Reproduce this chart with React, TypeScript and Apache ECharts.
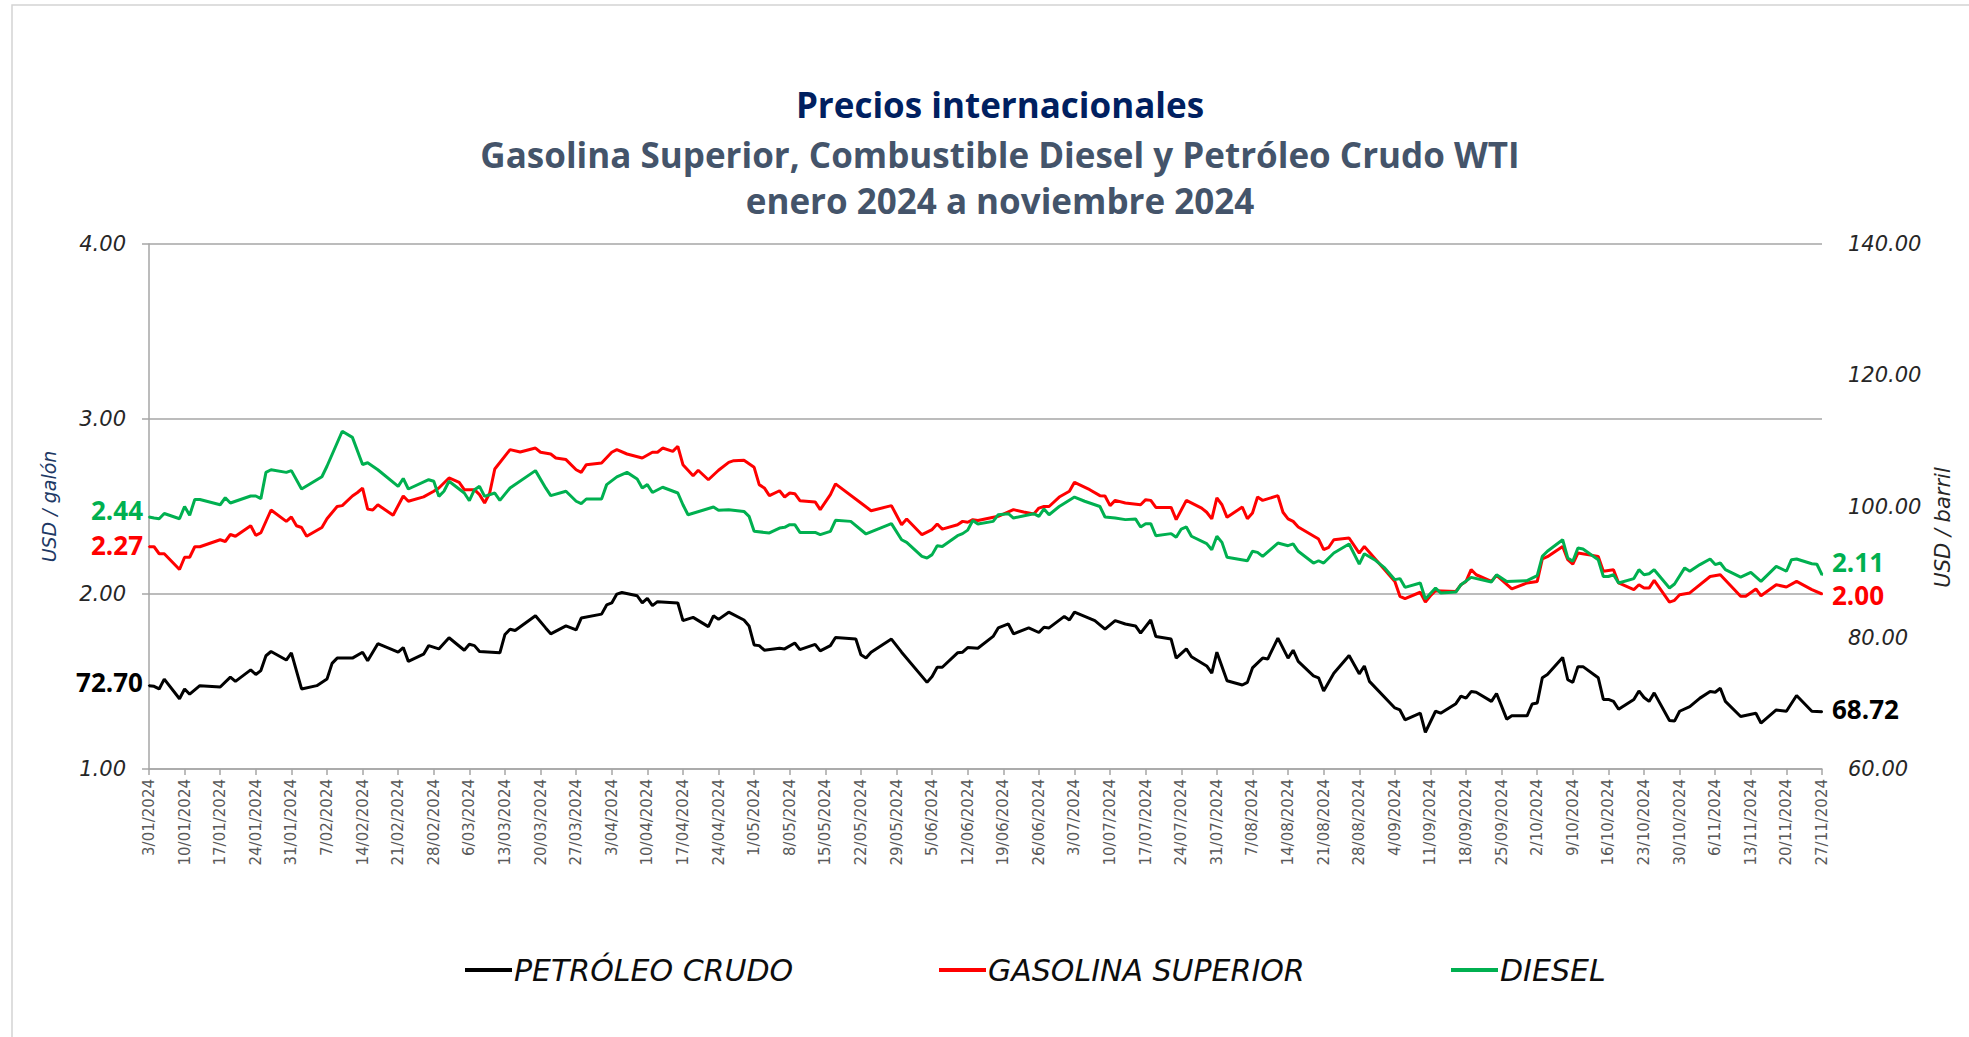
import React, { useEffect, useRef } from "react";
import * as echarts from "echarts";

// Day offsets from 3/01/2024 (day 0) to 27/11/2024 (day 329)
const weekLabels = [
  "3/01/2024", "10/01/2024", "17/01/2024", "24/01/2024", "31/01/2024", "7/02/2024", "14/02/2024", "21/02/2024",
  "28/02/2024", "6/03/2024", "13/03/2024", "20/03/2024", "27/03/2024", "3/04/2024", "10/04/2024", "17/04/2024",
  "24/04/2024", "1/05/2024", "8/05/2024", "15/05/2024", "22/05/2024", "29/05/2024", "5/06/2024", "12/06/2024",
  "19/06/2024", "26/06/2024", "3/07/2024", "10/07/2024", "17/07/2024", "24/07/2024", "31/07/2024", "7/08/2024",
  "14/08/2024", "21/08/2024", "28/08/2024", "4/09/2024", "11/09/2024", "18/09/2024", "25/09/2024", "2/10/2024",
  "9/10/2024", "16/10/2024", "23/10/2024", "30/10/2024", "6/11/2024", "13/11/2024", "20/11/2024", "27/11/2024",
];

const seriesNames = ["PETRÓLEO CRUDO", "GASOLINA SUPERIOR", "DIESEL"];
const seriesColors = ["#000000", "#FF0000", "#00B050"];

// PETRÓLEO CRUDO WTI, USD / barril : [day, value]
const crude: [number, number][] = [
  [0, 72.7], [1, 72.6], [2, 72.2], [3, 73.7], [6, 70.7], [7, 72.2], [8, 71.4], [10, 72.7], [14, 72.5], [16, 74.0],
  [17, 73.35], [20, 75.1], [21, 74.4], [22, 75.0], [23, 77.26], [24, 77.9], [27, 76.6], [28, 77.7], [30, 72.2],
  [33, 72.7], [35, 73.7], [36, 76.1], [37, 76.9], [40, 76.9], [42, 77.8], [43, 76.5], [45, 79.1], [49, 77.8],
  [50, 78.5], [51, 76.4], [54, 77.5], [55, 78.8], [57, 78.3], [59, 80.0], [62, 78.1], [63, 79.0], [64, 78.8],
  [65, 77.9], [69, 77.7], [70, 80.5], [71, 81.3], [72, 81.1], [76, 83.35], [78, 81.5], [79, 80.6], [82, 81.8],
  [84, 81.2], [85, 83.0], [89, 83.6], [90, 85.0], [91, 85.3], [92, 86.65], [93, 86.9], [96, 86.4], [97, 85.3],
  [98, 86.0], [99, 84.9], [100, 85.5], [104, 85.3], [105, 82.6], [107, 83.1], [110, 81.7], [111, 83.35],
  [112, 82.8], [114, 83.9], [117, 82.7], [118, 81.8], [119, 78.9], [120, 78.8], [121, 78.1], [124, 78.4],
  [125, 78.3], [127, 79.2], [128, 78.2], [131, 79.0], [132, 78.0], [134, 78.8], [135, 80.05], [139, 79.8],
  [140, 77.4], [141, 76.9], [142, 77.8], [146, 79.8], [148, 77.8], [153, 73.2], [154, 74.1], [155, 75.5],
  [156, 75.5], [159, 77.7], [160, 77.8], [161, 78.5], [163, 78.4], [166, 80.2], [167, 81.5], [169, 82.1],
  [170, 80.6], [173, 81.5], [175, 80.8], [176, 81.6], [177, 81.5], [180, 83.25], [181, 82.7], [182, 83.9],
  [186, 82.6], [188, 81.3], [190, 82.6], [192, 82.1], [194, 81.8], [195, 80.7], [197, 82.7], [198, 80.2],
  [201, 79.8], [202, 76.9], [204, 78.3], [205, 77.1], [208, 75.7], [209, 74.6], [210, 77.8], [212, 73.45],
  [215, 72.8], [216, 73.2], [217, 75.4], [219, 76.9], [220, 76.75], [222, 79.95], [224, 76.9], [225, 78.1],
  [226, 76.4], [229, 74.2], [230, 73.9], [231, 71.9], [233, 74.6], [236, 77.3], [238, 74.5], [239, 75.7],
  [240, 73.35], [245, 69.3], [246, 69.0], [247, 67.5], [250, 68.5], [251, 65.6], [253, 68.8], [254, 68.5],
  [257, 69.95], [258, 71.1], [259, 70.8], [260, 71.8], [261, 71.7], [264, 70.3], [265, 71.5], [267, 67.6],
  [268, 68.1], [271, 68.1], [272, 69.9], [273, 70.05], [274, 73.9], [275, 74.4], [278, 77.0], [279, 73.6],
  [280, 73.2], [281, 75.6], [282, 75.6], [285, 73.9], [286, 70.6], [287, 70.6], [288, 70.3], [289, 69.1],
  [292, 70.6], [293, 71.9], [294, 70.9], [295, 70.3], [296, 71.6], [299, 67.4], [300, 67.3], [301, 68.8],
  [303, 69.5], [305, 70.8], [307, 71.8], [308, 71.7], [309, 72.3], [310, 70.3], [313, 68.0], [316, 68.5],
  [317, 67.0], [320, 69.0], [322, 68.8], [324, 71.2], [327, 68.8], [329, 68.72],
];

// GASOLINA SUPERIOR, USD / galón : [day, value]
const gasoline: [number, number][] = [
  [0, 2.27], [1, 2.27], [2, 2.23], [3, 2.23], [6, 2.14], [7, 2.21], [8, 2.21], [9, 2.27], [10, 2.27], [14, 2.31],
  [15, 2.3], [16, 2.34], [17, 2.33], [20, 2.39], [21, 2.335], [22, 2.35], [24, 2.48], [27, 2.415], [28, 2.44],
  [29, 2.39], [30, 2.38], [31, 2.33], [34, 2.38], [35, 2.43], [37, 2.5], [38, 2.505], [40, 2.56], [41, 2.58],
  [42, 2.605], [43, 2.485], [44, 2.48], [45, 2.51], [48, 2.45], [50, 2.56], [51, 2.53], [54, 2.555], [56, 2.587],
  [57, 2.606], [59, 2.663], [61, 2.638], [62, 2.596], [64, 2.596], [65, 2.568], [66, 2.52], [67, 2.577],
  [68, 2.714], [71, 2.825], [73, 2.811], [76, 2.834], [77, 2.81], [79, 2.8], [80, 2.777], [82, 2.768], [84, 2.71],
  [85, 2.695], [86, 2.739], [89, 2.749], [91, 2.81], [92, 2.825], [94, 2.8], [97, 2.777], [99, 2.81], [100, 2.81],
  [101, 2.834], [103, 2.815], [104, 2.844], [105, 2.739], [107, 2.676], [108, 2.707], [110, 2.653], [112, 2.707],
  [114, 2.752], [115, 2.762], [117, 2.764], [119, 2.724], [120, 2.625], [121, 2.606], [122, 2.562], [124, 2.59],
  [125, 2.554], [126, 2.577], [127, 2.573], [128, 2.533], [131, 2.526], [132, 2.482], [134, 2.568], [135, 2.629],
  [140, 2.52], [142, 2.476], [146, 2.505], [148, 2.396], [149, 2.429], [152, 2.339], [154, 2.368], [155, 2.4],
  [156, 2.371], [159, 2.396], [160, 2.415], [161, 2.41], [162, 2.425], [163, 2.42], [167, 2.444], [170, 2.482],
  [172, 2.469], [174, 2.457], [175, 2.491], [176, 2.5], [177, 2.5], [179, 2.554], [181, 2.587], [182, 2.638],
  [185, 2.596], [187, 2.562], [188, 2.56], [189, 2.505], [190, 2.535], [192, 2.52], [195, 2.51], [196, 2.539],
  [197, 2.535], [198, 2.495], [201, 2.495], [202, 2.425], [204, 2.535], [207, 2.491], [208, 2.467], [209, 2.429],
  [210, 2.549], [211, 2.51], [212, 2.438], [215, 2.497], [216, 2.43], [217, 2.463], [218, 2.554], [219, 2.535],
  [222, 2.562], [223, 2.467], [224, 2.429], [225, 2.415], [226, 2.383], [230, 2.314], [231, 2.253], [232, 2.267],
  [233, 2.31], [236, 2.32], [238, 2.234], [239, 2.272], [243, 2.139], [245, 2.072], [246, 1.987], [247, 1.973],
  [250, 2.01], [251, 1.954], [252, 1.99], [253, 2.019], [257, 2.015], [258, 2.053], [259, 2.072], [260, 2.139],
  [261, 2.11], [264, 2.072], [265, 2.107], [268, 2.029], [271, 2.063], [273, 2.072], [274, 2.2], [275, 2.213],
  [278, 2.272], [279, 2.196], [280, 2.171], [281, 2.234], [285, 2.215], [286, 2.13], [288, 2.139], [289, 2.063],
  [292, 2.025], [293, 2.053], [294, 2.034], [295, 2.034], [296, 2.078], [299, 1.954], [300, 1.964], [301, 1.996],
  [303, 2.006], [307, 2.1], [309, 2.11], [313, 1.987], [314, 1.987], [316, 2.029], [317, 1.99], [320, 2.053],
  [322, 2.04], [324, 2.072], [327, 2.025], [329, 2.0],
];

// DIESEL, USD / galón : [day, value]
const diesel: [number, number][] = [
  [0, 2.44], [1, 2.434], [2, 2.43], [3, 2.46], [6, 2.43], [7, 2.5], [8, 2.45], [9, 2.54], [10, 2.54], [14, 2.51],
  [15, 2.55], [16, 2.52], [20, 2.56], [21, 2.56], [22, 2.545], [23, 2.695], [24, 2.71], [27, 2.695], [28, 2.705],
  [30, 2.6], [34, 2.67], [35, 2.73], [38, 2.93], [40, 2.895], [42, 2.74], [43, 2.75], [45, 2.71], [49, 2.615],
  [50, 2.66], [51, 2.6], [55, 2.653], [56, 2.644], [57, 2.558], [58, 2.587], [59, 2.644], [62, 2.577], [63, 2.533],
  [64, 2.596], [65, 2.615], [66, 2.558], [68, 2.577], [69, 2.535], [71, 2.606], [76, 2.705], [78, 2.606],
  [79, 2.562], [82, 2.587], [84, 2.53], [85, 2.516], [86, 2.543], [89, 2.543], [90, 2.625], [92, 2.669],
  [94, 2.695], [96, 2.657], [97, 2.606], [98, 2.625], [99, 2.58], [101, 2.61], [104, 2.577], [105, 2.51],
  [106, 2.453], [111, 2.497], [112, 2.478], [114, 2.482], [117, 2.472], [118, 2.444], [119, 2.358], [122, 2.349],
  [124, 2.377], [125, 2.381], [126, 2.396], [127, 2.396], [128, 2.352], [131, 2.352], [132, 2.339], [134, 2.358],
  [135, 2.421], [138, 2.415], [141, 2.343], [146, 2.402], [148, 2.31], [149, 2.295], [152, 2.215], [153, 2.206],
  [154, 2.225], [155, 2.276], [156, 2.272], [159, 2.333], [160, 2.345], [161, 2.365], [162, 2.42], [163, 2.4],
  [166, 2.415], [167, 2.453], [169, 2.459], [170, 2.434], [174, 2.459], [175, 2.444], [176, 2.486], [177, 2.453],
  [179, 2.5], [182, 2.554], [184, 2.53], [187, 2.5], [188, 2.44], [190, 2.434], [192, 2.425], [194, 2.429],
  [195, 2.383], [196, 2.402], [197, 2.402], [198, 2.333], [201, 2.345], [202, 2.324], [203, 2.371], [204, 2.383],
  [205, 2.33], [208, 2.288], [209, 2.253], [210, 2.33], [211, 2.295], [212, 2.21], [216, 2.19], [217, 2.244],
  [218, 2.238], [219, 2.215], [222, 2.291], [224, 2.276], [225, 2.286], [226, 2.244], [229, 2.177], [230, 2.19],
  [231, 2.177], [233, 2.234], [236, 2.286], [238, 2.171], [239, 2.23], [241, 2.196], [243, 2.149], [245, 2.082],
  [246, 2.088], [247, 2.038], [250, 2.063], [251, 1.971], [253, 2.034], [254, 2.006], [257, 2.011], [258, 2.053],
  [260, 2.095], [264, 2.069], [265, 2.11], [267, 2.072], [271, 2.076], [273, 2.105], [274, 2.215], [275, 2.244],
  [278, 2.31], [279, 2.206], [280, 2.187], [281, 2.263], [282, 2.257], [285, 2.196], [286, 2.1], [287, 2.1],
  [288, 2.11], [289, 2.063], [292, 2.088], [293, 2.139], [294, 2.11], [295, 2.116], [296, 2.139], [299, 2.034],
  [300, 2.057], [302, 2.149], [303, 2.13], [305, 2.168], [307, 2.2], [308, 2.168], [309, 2.177], [310, 2.139],
  [313, 2.097], [315, 2.124], [317, 2.072], [320, 2.158], [322, 2.13], [323, 2.196], [324, 2.2], [327, 2.173],
  [328, 2.17], [329, 2.11],
];

const titleLines = [
  "Precios internacionales",
  "Gasolina Superior, Combustible Diesel y Petróleo Crudo WTI",
  "enero 2024 a noviembre 2024",
];

const FONT = "'Open Sans', 'Noto Sans', sans-serif";
const WIDE = "'DejaVu Sans', 'Open Sans', sans-serif";

function withEndLabels(
  pts: [number, number][],
  color: string,
  startOffset: number[],
  endOffset: number[]
) {
  const base = {
    show: true,
    color,
    fontFamily: FONT,
    fontWeight: "bold",
    fontSize: 26,
    lineHeight: 26,
    formatter: (p: any) => Number(p.value[1]).toFixed(2),
  };
  return pts.map((p, i) => {
    if (i === 0) {
      return {
        value: p,
        symbolSize: 2,
        label: { ...base, position: "left", distance: 5, offset: startOffset },
      };
    }
    if (i === pts.length - 1) {
      return {
        value: p,
        symbolSize: 2,
        label: { ...base, position: "right", distance: 9, offset: endOffset },
      };
    }
    return { value: p, symbolSize: 0 };
  });
}

export default function App() {
  const ref = useRef<HTMLDivElement>(null);

  useEffect(() => {
    if (!ref.current) return;
    const chart = echarts.init(ref.current, undefined, { renderer: "svg" });

    const lineSeries = (idx: number, data: any[], yAxisIndex: number) => ({
      name: seriesNames[idx],
      type: "line",
      yAxisIndex,
      data,
      showSymbol: true,
      showAllSymbol: true,
      symbol: "circle",
      symbolSize: 0,
      lineStyle: { color: seriesColors[idx], width: 3 },
      itemStyle: { color: seriesColors[idx], borderWidth: 0 },
      emphasis: { disabled: true },
      z: 3 + idx,
    });

    const legendItem = (idx: number, left: number) => ({
      left,
      top: 950,
      icon: "rect",
      itemWidth: 47,
      itemHeight: 4,
      data: [seriesNames[idx]],
      textStyle: {
        fontFamily: WIDE,
        fontStyle: "italic",
        fontSize: 30,
        color: "#0d0d0d",
        padding: [0, 0, 0, -3],
      },
    });

    chart.setOption({
      animation: false,
      backgroundColor: "#ffffff",
      textStyle: { fontFamily: FONT },
      graphic: [
        {
          type: "rect",
          shape: { x: 12, y: 5, width: 2200, height: 1200 },
          style: { fill: "none", stroke: "#d4d4d4", lineWidth: 1.5 },
          silent: true,
        },
        {
          type: "text",
          x: 1000,
          y: 104,
          style: {
            text: titleLines[0],
            fill: "#002060",
            font: `bold 35px ${FONT}`,
            textAlign: "center",
            textVerticalAlign: "middle",
          },
        },
        {
          type: "text",
          x: 1000,
          y: 154,
          style: {
            text: titleLines[1],
            fill: "#44546A",
            font: `bold 35px ${FONT}`,
            textAlign: "center",
            textVerticalAlign: "middle",
          },
        },
        {
          type: "text",
          x: 1000,
          y: 200,
          style: {
            text: titleLines[2],
            fill: "#44546A",
            font: `bold 35px ${FONT}`,
            textAlign: "center",
            textVerticalAlign: "middle",
          },
        },
      ],
      legend: [legendItem(0, 460), legendItem(1, 934), legendItem(2, 1446)],
      grid: { left: 149, right: 147, top: 244, bottom: 268, containLabel: false },
      xAxis: {
        type: "value",
        min: 0,
        max: weekLabels.length * 7 - 7,
        interval: 7,
        axisLine: { show: true, lineStyle: { color: "#a6a6a6", width: 1.5 } },
        axisTick: { show: true, length: 6, lineStyle: { color: "#a6a6a6", width: 1.5 } },
        splitLine: { show: false },
        axisLabel: {
          rotate: 90,
          margin: 10,
          fontFamily: WIDE,
          fontSize: 15,
          color: "#595959",
          showMaxLabel: true,
          showMinLabel: true,
          formatter: (v: number) => weekLabels[Math.round(v / 7)] ?? "",
        },
      },
      yAxis: [
        {
          type: "value",
          min: 1,
          max: 4,
          interval: 1,
          position: "left",
          name: "USD / galón",
          nameLocation: "middle",
          nameRotate: 90,
          nameGap: 91,
          nameTextStyle: { fontFamily: WIDE, fontStyle: "italic", fontSize: 19, color: "#203864" },
          axisLine: { show: true, lineStyle: { color: "#a6a6a6", width: 1.5 } },
          axisTick: { show: true, length: 7, lineStyle: { color: "#a6a6a6", width: 1.5 } },
          splitLine: { show: true, lineStyle: { color: "#a6a6a6", width: 1.5 } },
          axisLabel: {
            margin: 23,
            fontFamily: WIDE,
            fontStyle: "italic",
            fontSize: 21,
            color: "#262626",
            formatter: (v: number) => v.toFixed(2),
          },
        },
        {
          type: "value",
          min: 60,
          max: 140,
          interval: 20,
          position: "right",
          name: "USD / barril",
          nameLocation: "middle",
          nameRotate: 90,
          nameGap: 108,
          nameTextStyle: {
            fontFamily: WIDE,
            fontStyle: "italic",
            fontSize: 21,
            color: "#262626",
            padding: [0, 42, 0, 0],
          },
          axisLine: { show: false },
          axisTick: { show: false },
          splitLine: { show: false },
          axisLabel: {
            margin: 26,
            fontFamily: WIDE,
            fontStyle: "italic",
            fontSize: 21,
            color: "#262626",
            formatter: (v: number) => v.toFixed(2),
          },
        },
      ],
      series: [
        lineSeries(0, withEndLabels(crude, seriesColors[0], [0, -4], [0, -3]), 1),
        lineSeries(1, withEndLabels(gasoline, seriesColors[1], [0, -2], [0, 1]), 0),
        lineSeries(2, withEndLabels(diesel, seriesColors[2], [0, -7], [0, -13]), 0),
      ],
    });

    return () => chart.dispose();
  }, []);

  return (
    <div
      ref={ref}
      style={{ position: "absolute", left: 0, top: 0, width: 1969, height: 1037 }}
    />
  );
}
